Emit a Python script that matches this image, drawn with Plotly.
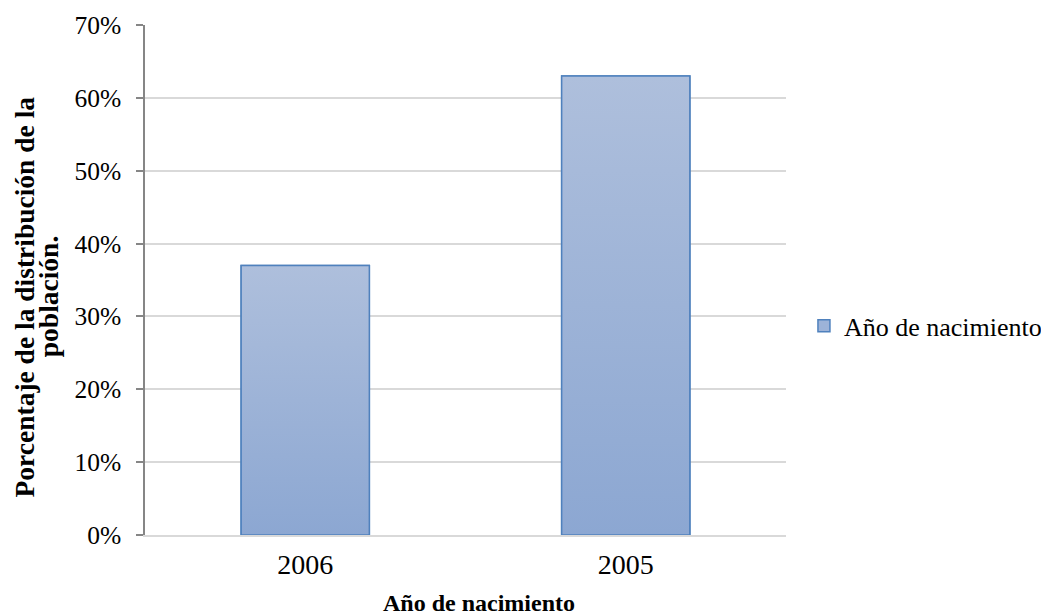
import plotly.graph_objects as go

categories = ["2006", "2005"]
values = [37, 63]
series_name = "Año de nacimiento"
y_ticks = [0, 10, 20, 30, 40, 50, 60, 70]
y_tick_labels = [f"{v}%" for v in y_ticks]
x_title = "Año de nacimiento"
y_title_lines = ["Porcentaje de la distribución de la", "población."]

FONT = "Liberation Serif"
BAR_W = 0.4
top_color = "#AEBFDC"
bottom_color = "#8CA7D2"
edge = "#4F81BD"

xs = list(range(len(categories)))

fig = go.Figure()
fig.add_trace(go.Bar(
    x=xs, y=values, width=BAR_W, name=series_name,
    marker=dict(color="#9DB3D8", line=dict(color=edge, width=1.5)),
    showlegend=True, hoverinfo="skip",
))
for xi, v in zip(xs, values):
    fig.add_trace(go.Scatter(
        x=[xi - BAR_W / 2, xi + BAR_W / 2, xi + BAR_W / 2, xi - BAR_W / 2, xi - BAR_W / 2],
        y=[0, 0, v, v, 0],
        mode="lines", fill="toself",
        fillgradient=dict(type="vertical", colorscale=[[0, bottom_color], [1, top_color]]),
        line=dict(color=edge, width=1.5),
        showlegend=False, hoverinfo="skip",
    ))

# y-axis title as two tightly spaced rotated lines
for xp, line in zip([-0.2130, -0.1760], y_title_lines):
    fig.add_annotation(
        text=f"<b>{line}</b>", xref="paper", yref="paper",
        x=xp, y=0.4676, xanchor="left", yanchor="middle",
        textangle=-90, showarrow=False, borderpad=0,
        font=dict(family=FONT, size=27.5, color="black"),
    )

# x-axis title
fig.add_annotation(
    text=f"<b>{x_title}</b>", xref="paper", yref="paper",
    x=0.521, y=-0.1333, xanchor="center", yanchor="middle",
    showarrow=False, borderpad=0,
    font=dict(family=FONT, size=24, color="black"),
)

fig.update_layout(
    width=1041, height=607,
    margin=dict(l=137, r=263, t=17, b=80, autoexpand=False),
    paper_bgcolor="white", plot_bgcolor="white",
    font=dict(family=FONT, size=20, color="black"),
    showlegend=True,
    legend=dict(x=1.028, y=0.41, xanchor="left", yanchor="middle",
                font=dict(family=FONT, size=26, color="black"),
                itemwidth=30, bgcolor="rgba(0,0,0,0)"),
    xaxis=dict(
        tickmode="array", tickvals=xs, ticktext=categories,
        range=[-0.5, len(categories) - 0.5],
        showgrid=False, zeroline=False, automargin=False,
        showline=True, linecolor="#D9D9D9", linewidth=1.5,
        ticks="", tickfont=dict(family=FONT, size=28), ticklabelstandoff=4,
    ),
    yaxis=dict(
        range=[0, 70], tickmode="array", tickvals=y_ticks, ticktext=y_tick_labels,
        showgrid=True, gridcolor="#D9D9D9", gridwidth=1.5,
        zeroline=False, automargin=False,
        showline=True, linecolor="#868686", linewidth=1.5,
        ticks="outside", ticklen=7, tickcolor="#868686", tickwidth=1.5,
        tickfont=dict(family=FONT, size=25.5), ticklabelstandoff=10,
    ),
)

fig.write_html("out.html")
